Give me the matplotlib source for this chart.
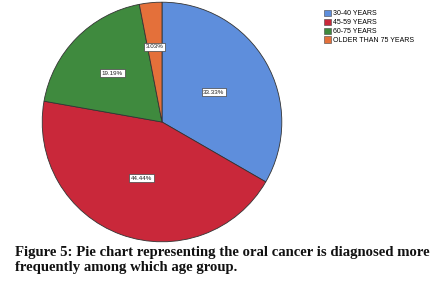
import numpy as np
import matplotlib
matplotlib.use("Agg")
import matplotlib.pyplot as plt
from matplotlib.patches import Patch

# data
age_groups = ["30-40 YEARS", "45-59 YEARS", "60-75 YEARS", "OLDER THAN 75 YEARS"]
percentages = [33.33, 44.44, 19.19, 3.03]
colors = ["#5E8EDC", "#C9283A", "#3F8A3E", "#E4703A"]
label_dist = [0.5, 0.5, 0.58, 0.63]

caption = ("Figure 5: Pie chart representing the oral cancer is diagnosed more\n"
           "frequently among which age group.")

fig = plt.figure(figsize=(4.33, 2.89), dpi=100)

# pie
ax = fig.add_axes([41 / 433, (289 - 243) / 289, 242 / 433, 242 / 289])
wedges, _ = ax.pie(percentages, colors=colors, startangle=90, counterclock=False,
                   wedgeprops=dict(edgecolor="#333333", linewidth=0.6))
for w, p, d in zip(wedges, percentages, label_dist):
    ang = np.deg2rad((w.theta1 + w.theta2) / 2)
    ax.text(d * np.cos(ang), d * np.sin(ang), f"{p:.2f}%",
            ha="center", va="center", fontsize=4.5, family="Liberation Sans",
            color="#222222",
            bbox=dict(boxstyle="square,pad=0.25", fc="white", ec="#444444", lw=0.5))
ax.set_xlim(-1.01, 1.01)
ax.set_ylim(-1.01, 1.01)
ax.set_aspect("equal")
ax.axis("off")

# legend
handles = [Patch(facecolor=c, edgecolor="#444444", linewidth=0.4) for c in colors]
fig.legend(handles, age_groups, loc="upper left", bbox_to_anchor=(319 / 433, 1 - 5 / 289),
           frameon=False, prop=dict(family="Liberation Sans", size=5.0),
           handlelength=1.0, handleheight=1.0, handletextpad=0.3,
           labelspacing=0.2, borderpad=0.2)

# caption
fig.text(15 / 433, 1 - 246 / 289, caption, ha="left", va="top",
         family="Liberation Serif", fontweight="bold", fontsize=10.6,
         linespacing=1.2, color="#111111")

fig.savefig("out.png", dpi=100, facecolor="white")
